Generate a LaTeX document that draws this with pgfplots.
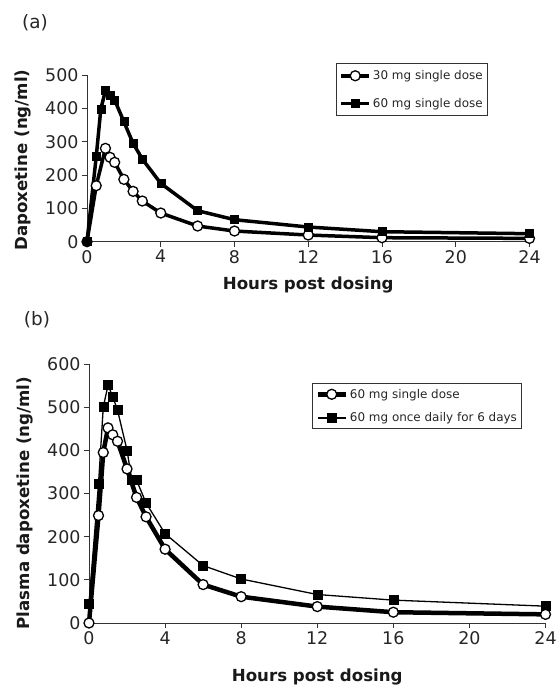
\documentclass[border=0pt]{standalone}
\usepackage{pgfplots}
\pgfplotsset{compat=1.18}
\usepackage{fontspec}
\setmainfont{DejaVu Sans}
\begin{document}
\begin{tikzpicture}
\useasboundingbox (0bp,0bp) rectangle (559bp,-687bp);
\pgfplotsset{
  common/.style={
    scale only axis, axis lines=left,
    axis line style={line width=1bp, black!80, -},
    tick style={line width=1bp, black!80}, tick align=outside, major tick length=5bp,
    xmin=0, xmax=24, xtick={0,4,...,24},
    ticklabel style={font=\fontsize{17.5}{20}\selectfont, text=black!85},
    /pgf/number format/assume math mode=true,
    label style={font=\bfseries\fontsize{16.7}{19}\selectfont, text=black!90},
    clip=false, anchor=south west,
    legend style={draw=black!80, line width=1bp, font=\fontsize{12}{14}\selectfont,
      text=black!85, inner xsep=3bp, cells={anchor=west}},
    legend image code/.code={\draw[mark repeat=2,mark phase=2] plot coordinates {(0bp,0bp) (14bp,0bp) (28bp,0bp)};},
  }
}
\node[anchor=center, font=\fontsize{18.5}{20}\selectfont, text=black!85] at (35bp,-23bp) {(a)};
\node[anchor=center, font=\fontsize{18.5}{20}\selectfont, text=black!85] at (37bp,-320bp) {(b)};

\begin{axis}[common, at={(87bp,-241.7bp)}, width=442.5bp, height=166.7bp,
  ymin=0, ymax=500, ytick={0,100,...,500},
  xlabel={Hours post dosing}, ylabel={Dapoxetine (ng/ml)},
  xlabel style={at={(axis description cs:0.5,-0.258)}, anchor=center},
  ylabel style={at={(axis description cs:-0.1446,0.49)}, anchor=center},
  legend style={at={(rel axis cs:0.5627,1.072)}, anchor=north west, row sep=13bp, inner ysep=5bp},
]
\addplot[black, line width=3.5bp, mark=*, mark size=5bp, mark options={fill=white, line width=1.3bp}]
  coordinates {(0,0) (0.5,168) (1,280) (1.25,253) (1.5,238) (2,187) (2.5,151) (3,122) (4,86) (6,47) (8,32) (12,20) (16,12) (24,10)};
\addlegendentry{30 mg single dose}
\addplot[black, line width=3.5bp, mark=square*, mark size=4bp, mark options={fill=black, line width=0.5bp}]
  coordinates {(0,0) (0.5,255) (0.75,398) (1,453) (1.25,438) (1.5,425) (2,360) (2.5,295) (3,248) (4,175) (6,93) (8,66) (12,44) (16,30) (24,24)};
\addlegendentry{60 mg single dose}
\end{axis}

\begin{axis}[common, at={(89bp,-623bp)}, width=456.5bp, height=259bp,
  ymin=0, ymax=600, ytick={0,100,...,600},
  xlabel={Hours post dosing}, ylabel={Plasma dapoxetine (ng/ml)},
  xlabel style={at={(axis description cs:0.5,-0.2085)}, anchor=center},
  ylabel style={at={(axis description cs:-0.140,0.463)}, anchor=center},
  legend style={at={(rel axis cs:0.4885,0.9266)}, anchor=north west, row sep=9bp, inner ysep=3.5bp},
  reverse legend,
]
\addplot[black, line width=1.3bp, mark=square*, mark size=4.5bp, mark options={fill=black, line width=0.5bp}]
  coordinates {(0,45) (0.5,322) (0.75,500) (1,551) (1.25,524) (1.5,493) (2,400) (2.25,331) (2.5,331) (3,278) (4,207) (6,133) (8,102) (12,66) (16,53) (24,39)};
\addlegendentry{60 mg once daily for 6 days}
\addplot[black, line width=4.5bp, mark=*, mark size=5bp, mark options={fill=white, line width=1.3bp}]
  coordinates {(0,0) (0.5,249) (0.75,395) (1,452) (1.25,436) (1.5,421) (2,357) (2.5,291) (3,246) (4,171) (6,89) (8,61) (12,38) (16,25) (24,20)};
\addlegendentry{60 mg single dose}
\end{axis}
\end{tikzpicture}
\end{document}
